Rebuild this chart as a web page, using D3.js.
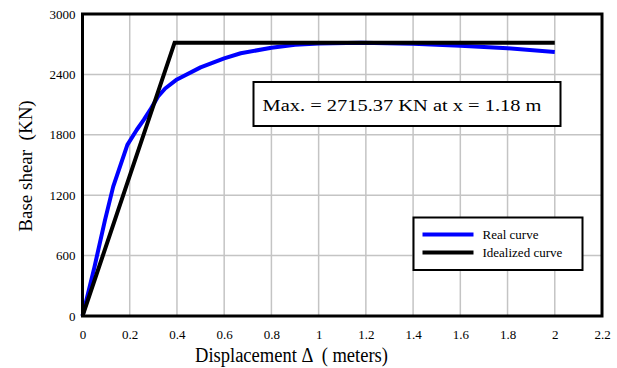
<!DOCTYPE html>
<html>
<head>
<meta charset="utf-8">
<script src="https://cdn.jsdelivr.net/npm/d3@7"></script>
<style>
body { margin: 0; background: #fff; }
svg text { font-family: "Liberation Serif", "DejaVu Serif", "Times New Roman", serif; fill: #000; white-space: pre; }
</style>
</head>
<body>
<script>
// real pushover curve
var realX = [0, 0.05, 0.095, 0.13, 0.19, 0.23, 0.26, 0.29, 0.32, 0.35, 0.4, 0.5, 0.6, 0.67, 0.8, 0.9, 1.0, 1.18, 1.4, 1.6, 1.8, 2.0];
var realY = [0, 480, 950, 1285, 1700, 1850, 1950, 2060, 2180, 2260, 2350, 2470, 2560, 2610, 2665, 2695, 2708, 2715, 2705, 2685, 2660, 2623];

// idealized bilinear curve
var idealX = [0, 0.39, 2.0];
var idealY = [0, 2715.37, 2715.37];

var xTicks = [0, 0.2, 0.4, 0.6, 0.8, 1, 1.2, 1.4, 1.6, 1.8, 2, 2.2];
var yTicks = [0, 600, 1200, 1800, 2400, 3000];
var seriesNames = ["Real curve", "Idealized curve"];
var seriesColors = ["#0000ff", "#000000"];
var noteText = "Max. = 2715.37 KN at x = 1.18 m";

var SERIF = "'Liberation Serif', 'DejaVu Serif', serif";

var W = 617, H = 368;
var M = {left: 82.5, right: 15, top: 14, bottom: 52};
var width = W - M.left - M.right;
var height = H - M.top - M.bottom;

var x = d3.scaleLinear().domain([0, 2.2]).range([0, width]);
var y = d3.scaleLinear().domain([0, 3000]).range([height, 0]);

var svg = d3.select("body").append("svg")
    .attr("width", W)
    .attr("height", H)
    .attr("font-family", SERIF);

var g = svg.append("g")
    .attr("transform", "translate(" + M.left + "," + M.top + ")");

// grid
g.append("g").selectAll("line").data(xTicks.slice(1, -1)).enter().append("line")
    .attr("x1", function(d) { return x(d); }).attr("x2", function(d) { return x(d); })
    .attr("y1", 0).attr("y2", height)
    .attr("stroke", "#c4c4c4").attr("stroke-width", 1.5);
g.append("g").selectAll("line").data(yTicks.slice(1, -1)).enter().append("line")
    .attr("y1", function(d) { return y(d); }).attr("y2", function(d) { return y(d); })
    .attr("x1", 0).attr("x2", width)
    .attr("stroke", "#c4c4c4").attr("stroke-width", 1.5);

// axes (labels only, frame drawn separately)
var xAxis = g.append("g")
    .attr("transform", "translate(0," + height + ")")
    .call(d3.axisBottom(x).tickValues(xTicks).tickSize(0).tickPadding(14).tickFormat(d3.format("")));
xAxis.select(".domain").remove();
xAxis.attr("font-family", SERIF).attr("font-size", 13);

var yAxis = g.append("g")
    .call(d3.axisLeft(y).tickValues(yTicks).tickSize(0).tickPadding(7).tickFormat(d3.format("d")));
yAxis.select(".domain").remove();
yAxis.attr("font-family", SERIF).attr("font-size", 13);

var line = d3.line()
    .x(function(d) { return x(d[0]); })
    .y(function(d) { return y(d[1]); });

var realData = realX.map(function(v, i) { return [v, realY[i]]; });
var idealData = idealX.map(function(v, i) { return [v, idealY[i]]; });

g.append("path").datum(realData)
    .attr("d", line).attr("fill", "none")
    .attr("stroke", seriesColors[0]).attr("stroke-width", 4)
    .attr("stroke-linejoin", "round");
g.append("path").datum(idealData)
    .attr("d", line).attr("fill", "none")
    .attr("stroke", seriesColors[1]).attr("stroke-width", 4)
    .attr("stroke-linejoin", "miter");

// plot frame
g.append("rect")
    .attr("x", 0).attr("y", 0)
    .attr("width", width).attr("height", height)
    .attr("fill", "none").attr("stroke", "#000").attr("stroke-width", 3);

// annotation box
var note = g.append("g").attr("transform", "translate(" + (253.5 - M.left) + "," + (82 - M.top) + ")");
note.append("rect").attr("width", 307).attr("height", 44)
    .attr("fill", "#fff").attr("stroke", "#000").attr("stroke-width", 2);
note.append("text").attr("x", 9).attr("y", 29)
    .attr("font-size", 17)
    .attr("textLength", 279).attr("lengthAdjust", "spacingAndGlyphs")
    .text(noteText);

// legend
var leg = g.append("g").attr("transform", "translate(" + (413.5 - M.left) + "," + (217.5 - M.top) + ")");
leg.append("rect").attr("width", 169).attr("height", 52.5)
    .attr("fill", "#fff").attr("stroke", "#000").attr("stroke-width", 2);
seriesNames.forEach(function(name, i) {
    leg.append("line")
        .attr("x1", 9).attr("x2", 60)
        .attr("y1", 17 + i * 18).attr("y2", 17 + i * 18)
        .attr("stroke", seriesColors[i]).attr("stroke-width", 4);
    leg.append("text").attr("x", 69).attr("y", 21 + i * 18)
        .attr("font-size", 13).text(name);
});

// axis titles
svg.append("text")
    .attr("x", 195).attr("y", 361.5)
    .attr("font-size", 20)
    .attr("textLength", 193).attr("lengthAdjust", "spacingAndGlyphs")
    .text("Displacement \u0394  ( meters)");

svg.append("text")
    .attr("transform", "translate(32," + 166 + ") rotate(-90)")
    .attr("text-anchor", "middle")
    .attr("font-size", 19)
    .text("Base shear  (KN)");
</script>
</body>
</html>
